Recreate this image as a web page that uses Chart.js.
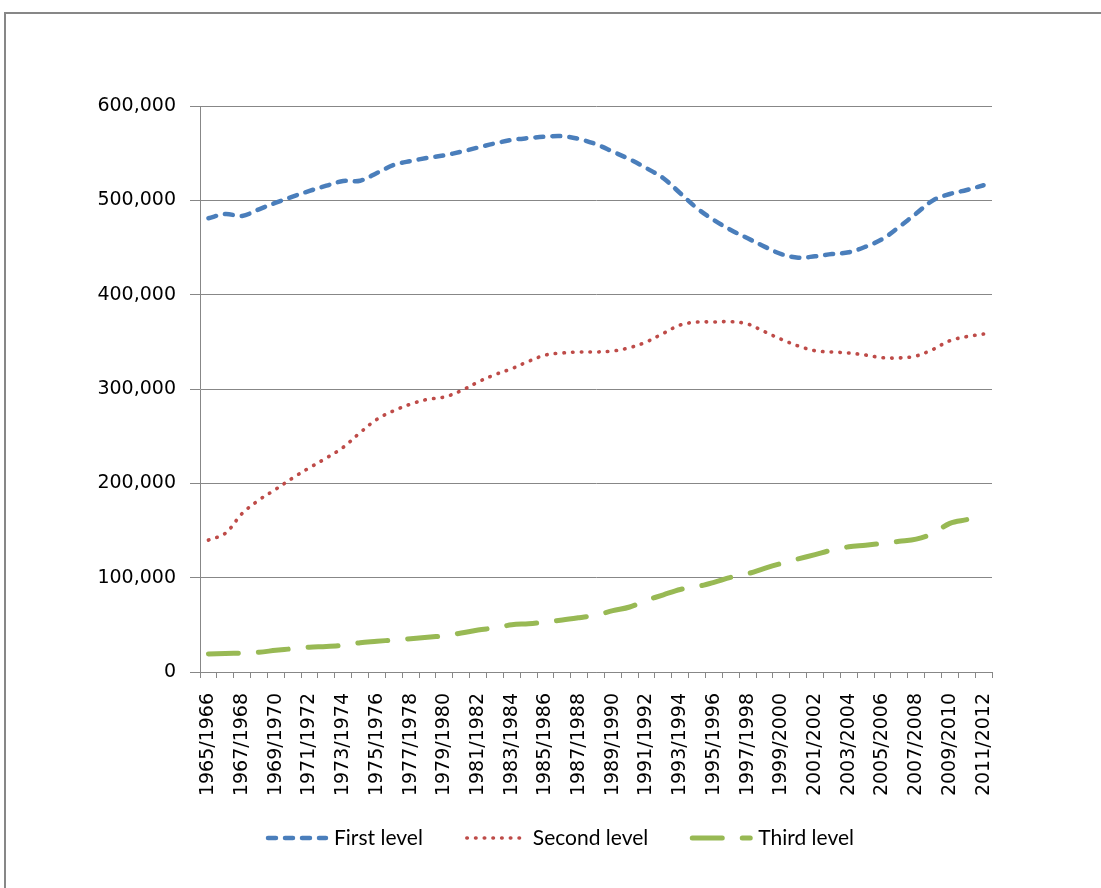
<!DOCTYPE html>
<html><head><meta charset="utf-8">
<script src="https://cdn.jsdelivr.net/npm/chart.js@4"></script>
<style>
html,body{margin:0;padding:0;background:#fff;overflow:hidden;width:1101px;height:888px;}
#frame{position:absolute;left:4px;top:12px;width:1200px;height:1000px;border-top:2px solid #878787;border-left:2px solid #878787;}
#wrap{position:absolute;left:0;top:0;width:1101px;height:888px;}
</style></head><body>
<div id="frame"></div>
<div id="wrap"><canvas id="c" width="1101" height="888"></canvas></div>
<script>
const categories = ["1965/1966","1966/1967","1967/1968","1968/1969","1969/1970","1970/1971","1971/1972","1972/1973","1973/1974","1974/1975","1975/1976","1976/1977","1977/1978","1978/1979","1979/1980","1980/1981","1981/1982","1982/1983","1983/1984","1984/1985","1985/1986","1986/1987","1987/1988","1988/1989","1989/1990","1990/1991","1991/1992","1992/1993","1993/1994","1994/1995","1995/1996","1996/1997","1997/1998","1998/1999","1999/2000","2000/2001","2001/2002","2002/2003","2003/2004","2004/2005","2005/2006","2006/2007","2007/2008","2008/2009","2009/2010","2010/2011","2011/2012"];
const firstLevel = [481000,485500,483500,490500,497500,504000,510000,515500,520500,520800,529000,537500,541700,545000,547700,551600,556000,560400,564000,566000,567500,568000,565000,559500,551600,543500,534000,523400,507500,491600,479000,468600,459800,450900,443000,439200,440700,443000,444900,450900,459000,472000,486000,500000,506700,511000,516000];
const secondLevel = [139900,147000,168000,182300,193700,205700,216600,226900,238200,253700,267900,277000,284000,289000,291500,298200,307400,315200,321600,329400,336000,338200,339200,339200,340300,343800,350000,359000,367900,371000,371000,371400,368900,360800,352700,345600,340600,339200,338200,336000,333200,332900,335000,342000,351200,355500,358300];
const thirdLevel = [19100,19600,20100,21000,23000,24700,26300,27000,28400,31100,32500,34000,35300,36800,38500,41300,44500,46800,50000,51200,53000,55100,57600,60300,65000,68900,76000,81800,87500,90500,95100,100400,104200,109900,115200,119900,124500,129300,132700,134400,136400,138500,140800,147000,157600,161500];
const yMin = 0, yMax = 600000, yStep = 100000;

const gridColor = '#878787';

const lineLegend = {
  id: 'lineLegend',
  afterDraw(chart) {
    const c = chart.ctx;
    c.save();
    c.font = "21px Lato";
    const sampleW = 58, gapText = 8, gapItem = 44;
    const items = chart.data.datasets.map(ds => ({ds, tw: c.measureText(ds.label).width}));
    const total = items.reduce((a, it) => a + sampleW + gapText + it.tw, 0) + gapItem * (items.length - 1);
    let x = 561 - total / 2;
    const y = 838;
    items.forEach(it => {
      c.beginPath();
      c.strokeStyle = it.ds.borderColor;
      c.lineWidth = it.ds.borderWidth;
      c.setLineDash(it.ds.borderDash);
      c.lineCap = 'round';
      c.moveTo(x, y);
      c.lineTo(x + sampleW, y);
      c.stroke();
      x += sampleW + gapText;
      c.setLineDash([]);
      c.fillStyle = '#000';
      c.textBaseline = 'middle';
      c.textAlign = 'left';
      c.fillText(it.ds.label, x, y);
      x += it.tw + gapItem;
    });
    c.restore();
  }
};

const ctx = document.getElementById('c').getContext('2d');
new Chart(ctx, {
  type: 'line',
  data: {
    labels: categories,
    datasets: [
      {label:'First level', data:firstLevel, borderColor:'#4a7ebb', backgroundColor:'#4a7ebb', borderWidth:4.5, borderDash:[8,9], borderCapStyle:'round', pointRadius:0, tension:0.35, fill:false},
      {label:'Second level', data:secondLevel, borderColor:'#be4b48', backgroundColor:'#be4b48', borderWidth:3.6, borderDash:[0.5,8.2], borderCapStyle:'round', pointRadius:0, tension:0.35, fill:false},
      {label:'Third level', data:thirdLevel, borderColor:'#98b954', backgroundColor:'#98b954', borderWidth:5, borderDash:[30,20], borderCapStyle:'round', pointRadius:0, tension:0.35, fill:false}
    ]
  },
  options: {
    responsive:false, animation:false, devicePixelRatio:1,
    layout:{padding:{left:80,right:109,top:106,bottom:0}},
    plugins:{
      legend:{display:false},
      tooltip:{enabled:false}
    },
    scales:{
      x:{
        offset:true,
        grid:{offset:true, drawOnChartArea:false, drawTicks:true, tickLength:6, color:gridColor, lineWidth:1},
        border:{color:gridColor, width:1},
        ticks:{autoSkip:false, maxRotation:90, minRotation:90, padding:15, color:'#000', font:{family:"'DejaVu Sans'", size:19},
          callback:(v,i)=> i%2===0 ? categories[i] : ''},
        afterFit:(s)=>{ s.height = 216; }
      },
      y:{
        min:yMin, max:yMax,
        grid:{color:gridColor, lineWidth:1, tickLength:10},
        border:{color:gridColor, width:1},
        ticks:{stepSize:yStep, padding:14, color:'#000', font:{family:"'DejaVu Sans'", size:19},
          callback:(v)=> Number(v).toLocaleString('en-US')},
        afterFit:(s)=>{ s.width = 120; }
      }
    }
  },
  plugins:[lineLegend]
});
</script>
</body></html>
